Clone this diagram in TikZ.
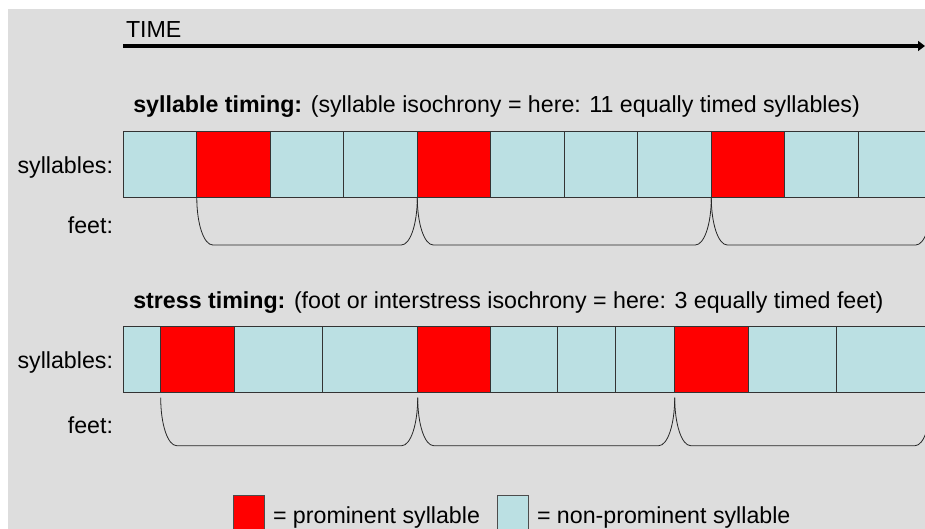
\documentclass[tikz,border=0pt]{standalone}
\usepackage{fontspec}
\setmainfont{Liberation Sans}
\usetikzlibrary{arrows.meta,calc}
\definecolor{bg}{HTML}{DDDDDD}
\definecolor{nonprom}{HTML}{BBE0E3}
\definecolor{prom}{HTML}{FF0000}
\newcommand\footarc[4]{%
  \draw[footline] let \p1=(#1.south west), \p2=(#2), \n1={#3}, \n2={#4} in
    (\x1,\y1-\n1) .. controls (\x1,\y1-\n1-0.552*\n2) and (\x1+7pt,\y1-\n1-\n2) .. (\x1+16pt,\y1-\n1-\n2)
    -- (\x2-16pt,\y1-\n1-\n2) .. controls (\x2-7pt,\y1-\n1-\n2) and (\x2,\y1-\n1-0.552*\n2) .. (\x2,\y1-\n1);}
\begin{document}
\begin{tikzpicture}[x=1pt,y=-1pt,
  txt/.style={font=\fontsize{23.2}{27}\selectfont, inner sep=0, outer sep=0},
  cell/.style={draw=black!80, line width=0.8pt, inner sep=0, outer sep=0, minimum height=66pt, anchor=north west},
  legbox/.style={draw=black!70, line width=0.8pt, inner sep=0, outer sep=0, minimum width=30.7pt, minimum height=40pt, anchor=north west},
  footline/.style={draw=black!85, line width=0.8pt},
  timearrow/.style={line width=3.8pt, -{Triangle[length=7pt,width=10pt]}}]
\useasboundingbox (0,0) rectangle (925,529);
\clip (0,0) rectangle (925,529);
\fill[bg] (8,9) rectangle (925,529);
% time arrow
\node[txt, anchor=base west] (time) at (126,37.5) {TIME};
\coordinate (t0) at (123,46);
\coordinate (t1) at (925,46);
\draw[timearrow] (t0) -- (t1);
% row 1: syllable timing
\node[txt, anchor=base west] (title1) at (133.3,112.7) {\textbf{syllable timing:} (syllable isochrony = here: 11 equally timed syllables)};
\node[txt, anchor=base east] (syl1) at (113,173.3) {syllables:};
\node[txt, anchor=base east] (feet1) at (113,233.3) {feet:};
\foreach \i/\a/\b/\c in {1/123.3/196.8/nonprom,2/196.8/270.3/prom,3/270.3/343.8/nonprom,4/343.8/417.3/nonprom,
  5/417.3/490.8/prom,6/490.8/564.3/nonprom,7/564.3/637.8/nonprom,8/637.8/711.3/nonprom,
  9/711.3/784.8/prom,10/784.8/858.3/nonprom,11/858.3/931.8/nonprom}
  {\node[cell, fill=\c, minimum width={(\b-\a)*1pt}] (r1c\i) at (\a,131.7) {};}
\footarc{r1c2}{r1c5.south west}{0}{47.3}
\footarc{r1c5}{r1c9.south west}{0}{47.3}
\footarc{r1c9}{r1c11.south east}{0}{47.3}
% row 2: stress timing
\node[txt, anchor=base west] (title2) at (133.3,308.3) {\textbf{stress timing:} (foot or interstress isochrony = here: 3 equally timed feet)};
\node[txt, anchor=base east] (syl2) at (113,368.3) {syllables:};
\node[txt, anchor=base east] (feet2) at (113,433.3) {feet:};
\foreach \i/\a/\b/\c in {1/123.3/160.7/nonprom,2/160.7/234/prom,3/234/322.3/nonprom,4/322.3/417.7/nonprom,
  5/417.7/490.7/prom,6/490.7/557/nonprom,7/557/615.7/nonprom,8/615.7/674.7/nonprom,
  9/674.7/748/prom,10/748/836.3/nonprom,11/836.3/931/nonprom}
  {\node[cell, fill=\c, minimum width={(\b-\a)*1pt}] (r2c\i) at (\a,326) {};}
\footarc{r2c2}{r2c5.south west}{5.7}{48}
\footarc{r2c5}{r2c9.south west}{5.7}{48}
\footarc{r2c9}{r2c11.south east}{5.7}{48}
% legend
\node[legbox, fill=prom] (legp) at (233.3,495) {};
\node[txt, anchor=base west] (legpt) at (273,523.3) {= prominent syllable};
\node[legbox, fill=nonprom] (legn) at (497.7,495) {};
\node[txt, anchor=base west] (legnt) at (537,523.3) {= non-prominent syllable};
\end{tikzpicture}
\end{document}
